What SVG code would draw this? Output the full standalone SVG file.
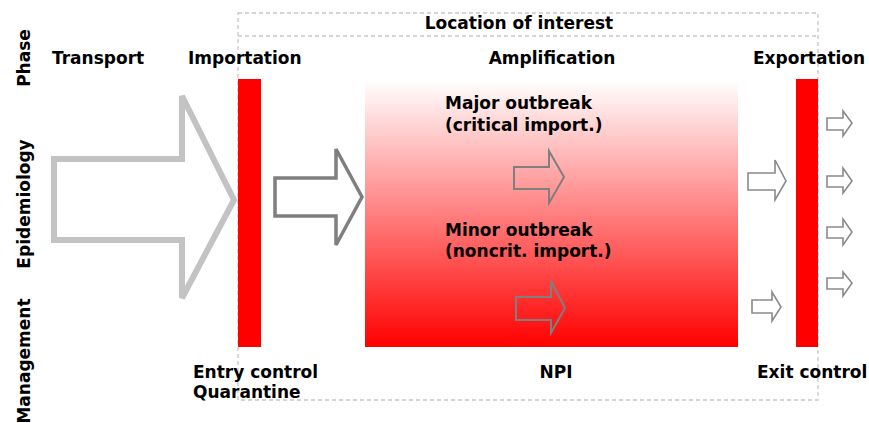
<svg xmlns="http://www.w3.org/2000/svg" width="869" height="423" viewBox="0 0 869 423">
<defs>
<linearGradient id="amp" x1="0" y1="0" x2="0" y2="1">
<stop offset="0" stop-color="#ffffff"/>
<stop offset="1" stop-color="#ff0000"/>
</linearGradient>
</defs>
<style>
text{font-family:"DejaVu Sans","Liberation Sans",sans-serif;font-weight:bold;font-size:17px;fill:#000}
.dash{fill:none;stroke:#c8c8c8;stroke-width:1.3;stroke-dasharray:4 3}
.bar{fill:#ff0000}
.big{fill:#fff;stroke:#c3c3c3;stroke-width:6;stroke-linejoin:miter}
.mid{fill:#fff;stroke:#7f7f7f;stroke-width:3.5}
.sm{fill:none;stroke:#7f7f7f;stroke-width:2}
.xs{fill:#fff;stroke:#8a8a8a;stroke-width:1.6}
</style>
<g id="location">
<rect class="dash" x="238" y="13" width="580" height="387"/>
<line class="dash" x1="238" y1="36" x2="818" y2="36"/>
<text x="519" y="29" text-anchor="middle">Location of interest</text>
</g>
<g id="rowlabels">
<text transform="translate(30,58) rotate(-90)" text-anchor="middle">Phase</text>
<text transform="translate(30,204) rotate(-90)" text-anchor="middle">Epidemiology</text>
<text transform="translate(30,361) rotate(-90)" text-anchor="middle">Management</text>
</g>
<g id="phases">
<text x="52" y="64">Transport</text>
<text x="188" y="64">Importation</text>
<text x="552" y="64" text-anchor="middle">Amplification</text>
<text x="753" y="64">Exportation</text>
</g>
<g id="amplification">
<rect x="365" y="80" width="373" height="267" fill="url(#amp)"/>
<text x="445" y="109">Major outbreak</text>
<text x="445" y="131">(critical import.)</text>
<text x="445" y="236">Minor outbreak</text>
<text x="445" y="257">(noncrit. import.)</text>
</g>
<g id="entry">
<rect class="bar" x="238" y="79" width="23" height="268"/>
<text x="193" y="378">Entry control</text>
<text x="193" y="398">Quarantine</text>
</g>
<g id="exit">
<rect class="bar" x="796" y="79" width="22" height="268"/>
<text x="757" y="378">Exit control</text>
</g>
<g id="npi">
<text x="556" y="378" text-anchor="middle">NPI</text>
</g>
<g id="connectors">
<polygon class="big" points="54,159 182,159 182,96 234,200 182,298 182,240 54,240"/>
<polygon class="mid" points="275,178 336,178 336,149 362,197 336,245 336,216 275,216"/>
<polygon class="sm" points="514,167 549,167 549,151 564,177 549,203 549,189 514,189"/>
<polygon class="sm" points="516,297 551,297 551,281 565,308 551,333 551,320 516,320"/>
<polygon class="xs" points="748,173 775,173 775,160 786,181 775,200 775,190 748,190"/>
<polygon class="xs" points="752,300 772,300 772,292 781,307 772,321 772,313 752,313"/>
<polygon class="xs" points="827,118 843,118 843,111 852,123 843,136 843,130 827,130"/>
<polygon class="xs" points="827,176 843,176 843,168 852,181 843,193 843,187 827,187"/>
<polygon class="xs" points="827,227 843,227 843,219 852,232 843,245 843,238 827,238"/>
<polygon class="xs" points="827,278 843,278 843,272 852,283 843,296 843,289 827,289"/>
</g>
</svg>
